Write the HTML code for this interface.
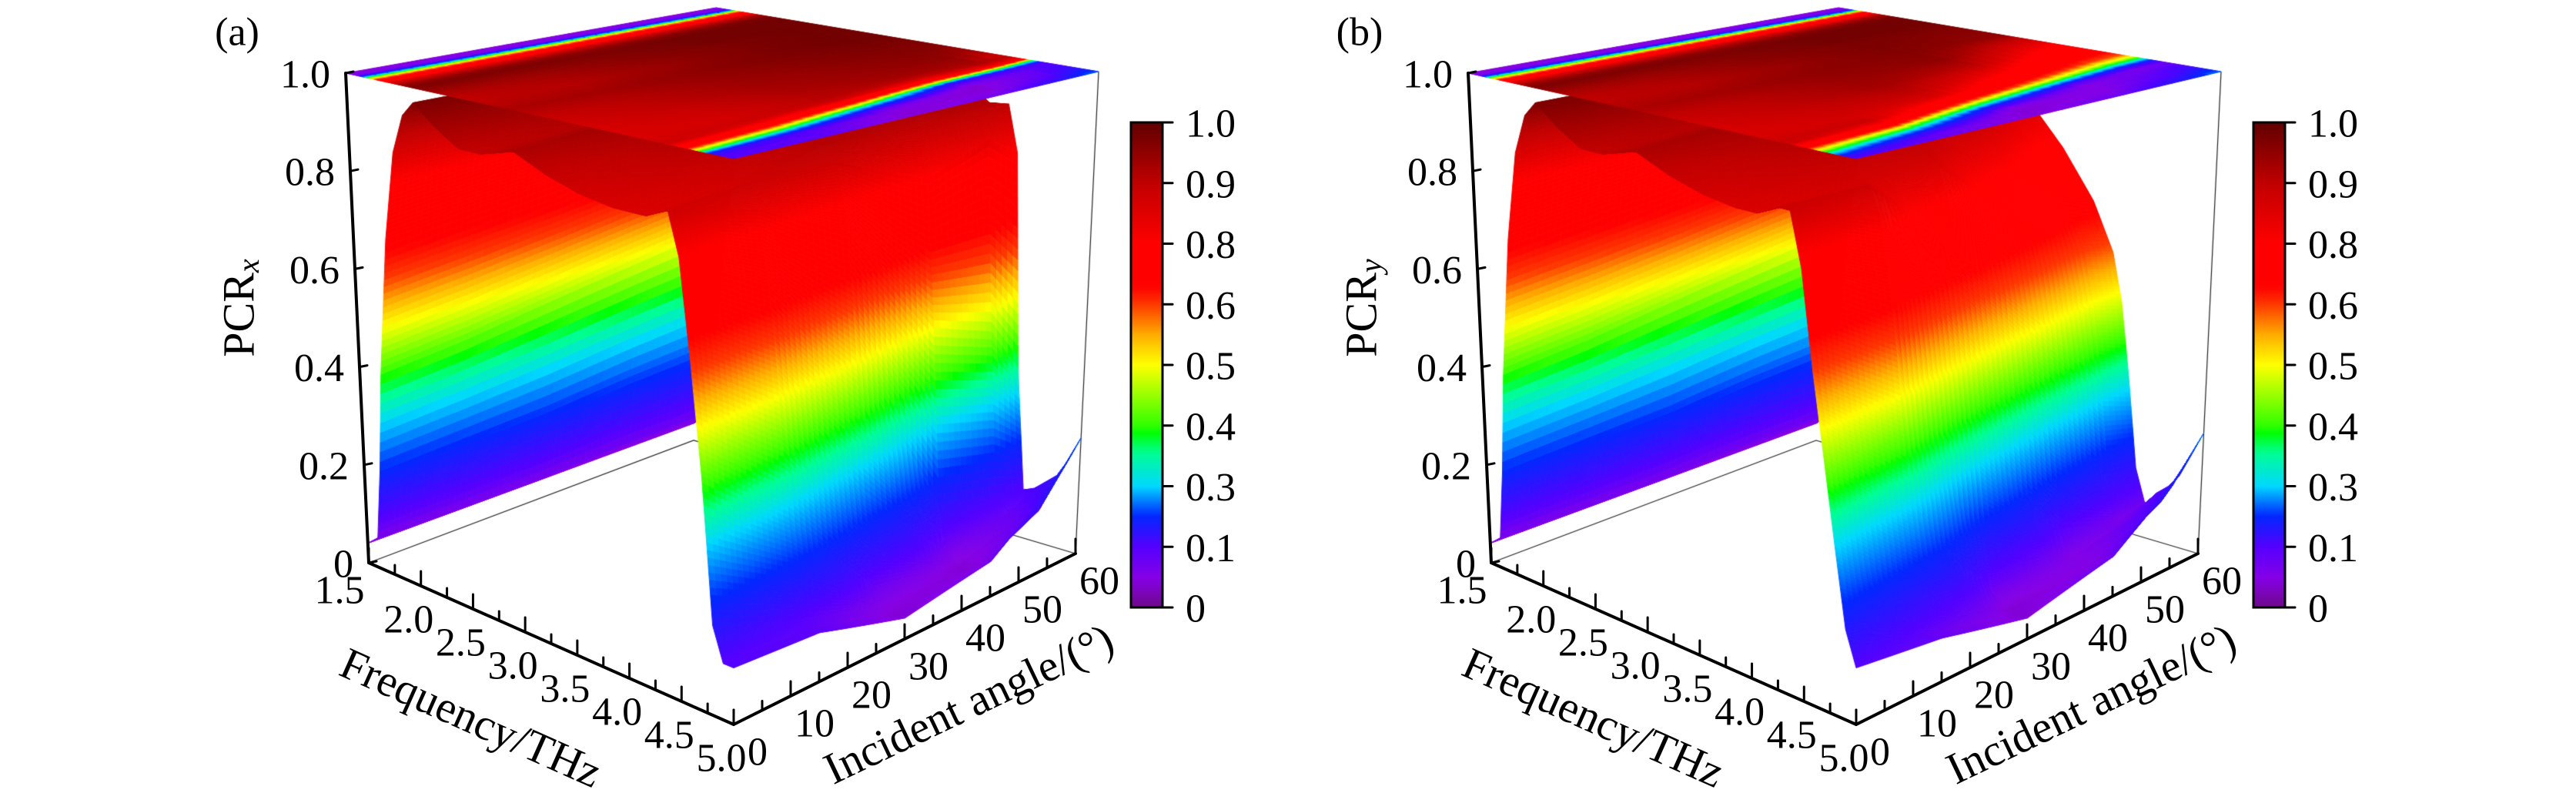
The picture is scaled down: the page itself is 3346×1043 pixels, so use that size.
<!DOCTYPE html>
<html>
<head>
<meta charset="utf-8">
<style>
  html,body{margin:0;padding:0;background:#fff;}
  #wrap{position:relative;width:3346px;height:1043px;overflow:hidden;background:#fff;}
  canvas,svg{position:absolute;left:0;top:0;}
  text{font-family:"Liberation Serif","DejaVu Serif",serif;fill:#000;}
</style>
</head>
<body>
<div id="wrap">
  <canvas id="cv" width="3346" height="1043"></canvas>
  <svg id="ov" width="3346" height="1043" viewBox="0 0 3346 1043">
    <defs>
      <linearGradient id="cmap" x1="0" y1="1" x2="0" y2="0"></linearGradient>
    </defs>
  </svg>
</div>
<script>
// ---------------- data ----------------
const freqs = [1.5,1.6,1.65,1.7,1.8,1.9,2.0,2.1,2.3,2.5,2.7,3.0,3.3,3.6,3.9,4.1,4.2,4.3,4.4,4.5,4.6,4.7,4.8,4.9,5.0];
const angles = [0,15,30,45,55,60];

// panel (a) PCR_x, one row per incident angle
const pcrX_0  = [0.04,0.06,0.20,0.40,0.68,0.86,0.94,0.97,0.93,0.90,0.90,0.92,0.89,0.87,0.86,0.86,0.86,0.87,0.88,0.80,0.62,0.42,0.16,0.10,0.10];
const pcrX_15 = [0.04,0.06,0.21,0.42,0.70,0.87,0.95,0.97,0.94,0.92,0.91,0.93,0.91,0.90,0.88,0.87,0.87,0.88,0.84,0.70,0.50,0.28,0.10,0.09,0.09];
const pcrX_30 = [0.04,0.06,0.22,0.45,0.72,0.88,0.95,0.97,0.96,0.95,0.94,0.95,0.94,0.93,0.92,0.91,0.91,0.88,0.75,0.50,0.25,0.08,0.05,0.04,0.04];
const pcrX_45 = [0.04,0.07,0.24,0.48,0.75,0.90,0.96,0.98,0.98,0.97,0.97,0.97,0.96,0.95,0.94,0.93,0.90,0.80,0.50,0.15,0.06,0.04,0.04,0.05,0.07];
const pcrX_55 = [0.04,0.07,0.25,0.50,0.77,0.91,0.97,0.98,0.98,0.98,0.98,0.98,0.97,0.96,0.95,0.93,0.92,0.85,0.45,0.12,0.08,0.08,0.09,0.11,0.16];
const pcrX_60 = [0.04,0.07,0.26,0.52,0.78,0.92,0.97,0.98,0.98,0.98,0.98,0.98,0.97,0.96,0.92,0.88,0.90,0.80,0.35,0.10,0.11,0.13,0.15,0.19,0.24];

// panel (b) PCR_y
const pcrY_0  = [0.04,0.06,0.20,0.40,0.68,0.86,0.94,0.97,0.93,0.90,0.90,0.92,0.89,0.87,0.86,0.86,0.87,0.88,0.88,0.78,0.60,0.45,0.30,0.16,0.10];
const pcrY_15 = [0.04,0.06,0.21,0.42,0.70,0.87,0.95,0.97,0.94,0.92,0.91,0.93,0.91,0.90,0.88,0.87,0.87,0.88,0.82,0.68,0.48,0.30,0.15,0.08,0.08];
const pcrY_30 = [0.04,0.06,0.22,0.45,0.72,0.88,0.95,0.97,0.96,0.95,0.94,0.95,0.94,0.93,0.90,0.86,0.80,0.70,0.55,0.35,0.15,0.06,0.04,0.04,0.04];
const pcrY_45 = [0.04,0.07,0.24,0.48,0.75,0.90,0.96,0.98,0.98,0.97,0.97,0.96,0.95,0.90,0.80,0.70,0.62,0.50,0.30,0.10,0.05,0.05,0.05,0.06,0.08];
const pcrY_55 = [0.04,0.07,0.25,0.50,0.77,0.91,0.97,0.98,0.98,0.97,0.96,0.95,0.88,0.80,0.70,0.60,0.50,0.35,0.15,0.06,0.07,0.09,0.10,0.13,0.17];
const pcrY_60 = [0.04,0.07,0.26,0.52,0.78,0.92,0.97,0.98,0.98,0.97,0.96,0.95,0.86,0.78,0.68,0.58,0.48,0.32,0.14,0.07,0.10,0.12,0.15,0.20,0.25];

const zTicks = [0,0.2,0.4,0.6,0.8,1.0];
const zTickLabels = ['0','0.2','0.4','0.6','0.8','1.0'];
const freqTicks = [1.5,2.0,2.5,3.0,3.5,4.0,4.5,5.0];
const freqTickLabels = ['1.5','2.0','2.5','3.0','3.5','4.0','4.5','5.0'];
const angleTicks = [0,10,20,30,40,50,60];
const angleTickLabels = ['0','10','20','30','40','50','60'];
const cbarLabels = ['0','0.1','0.3','0.4','0.5','0.6','0.8','0.9','1.0'];
const cbarValues = [0,0.1,0.3,0.4,0.5,0.6,0.8,0.9,1.0];

// ---------------- colormap ----------------
const cmT = [0,0.06,0.125,0.19,0.25,0.32,0.36,0.375,0.5,0.56,0.625,0.66,0.75,0.875,1];
const cmC = ['#6e0a8a','#8600e6','#5400ff','#0028ff','#00d8ff','#00ff90','#00ff00','#30ff00','#ffff00','#ffb000','#ff3800','#ff0000','#ff0000','#c00000','#600000'];
function hex(c){return [parseInt(c.slice(1,3),16),parseInt(c.slice(3,5),16),parseInt(c.slice(5,7),16)];}
const cmRGB = cmC.map(hex);
function tColor(t){
  t=Math.max(0,Math.min(1,t));
  for(let i=0;i<cmT.length-1;i++){
    if(t<=cmT[i+1]){
      const k=(t-cmT[i])/(cmT[i+1]-cmT[i]);
      const a=cmRGB[i],b=cmRGB[i+1];
      return 'rgb('+Math.round(a[0]+(b[0]-a[0])*k)+','+Math.round(a[1]+(b[1]-a[1])*k)+','+Math.round(a[2]+(b[2]-a[2])*k)+')';
    }
  }
  return cmC[cmC.length-1];
}
function valToT(v){
  v=Math.max(0,Math.min(1,v));
  for(let i=0;i<cbarValues.length-1;i++){
    if(v<=cbarValues[i+1]){
      const k=(v-cbarValues[i])/(cbarValues[i+1]-cbarValues[i]);
      return (i+k)/(cbarValues.length-1);
    }
  }
  return 1;
}
const colCache={};
function valColor(v){
  const key=Math.round(Math.max(0,Math.min(1,v))*1000);
  if(!(key in colCache)) colCache[key]=tColor(valToT(key/1000));
  return colCache[key];
}

// ---------------- projection ----------------
const Lb=[479,731],Fb=[953,941],Rb=[1397,719],Bb=[901,572];
const Lt=[449,95],Ft=[953,206],Rt=[1427,93],Bt=[930,10];
function bil(P00,P10,P11,P01,u,v){
  return [(1-u)*(1-v)*P00[0]+u*(1-v)*P10[0]+u*v*P11[0]+(1-u)*v*P01[0],
          (1-u)*(1-v)*P00[1]+u*(1-v)*P10[1]+u*v*P11[1]+(1-u)*v*P01[1]];
}
function fScale(f){return (f-1.5)/3.5;}
function aScale(a){return a/60;}
function proj(f,a,z,dx){
  const u=fScale(f),v=aScale(a);
  const b=bil(Lb,Fb,Rb,Bb,u,v),t=bil(Lt,Ft,Rt,Bt,u,v);
  return [b[0]+(t[0]-b[0])*z+dx, b[1]+(t[1]-b[1])*z];
}
function interp(rows,f,a){
  let i=0; while(i<freqs.length-2 && f>freqs[i+1]) i++;
  let j=0; while(j<angles.length-2 && a>angles[j+1]) j++;
  const kf=(f-freqs[i])/(freqs[i+1]-freqs[i]);
  const ka=(a-angles[j])/(angles[j+1]-angles[j]);
  const z00=rows[j][i],z10=rows[j][i+1],z01=rows[j+1][i],z11=rows[j+1][i+1];
  return (1-kf)*(1-ka)*z00+kf*(1-ka)*z10+(1-kf)*ka*z01+kf*ka*z11;
}

// ---------------- drawing ----------------
const cv=document.getElementById('cv');
const ctx=cv.getContext('2d');
const NS='http://www.w3.org/2000/svg';
const ov=document.getElementById('ov');

const grad=document.getElementById('cmap');
for(let k=0;k<=64;k++){
  const s=document.createElementNS(NS,'stop');
  s.setAttribute('offset',(k/64*100)+'%');
  s.setAttribute('stop-color',tColor(k/64));
  grad.appendChild(s);
}

function line(g,x1,y1,x2,y2,w,name){
  const l=document.createElementNS(NS,'line');
  l.setAttribute('x1',x1);l.setAttribute('y1',y1);l.setAttribute('x2',x2);l.setAttribute('y2',y2);
  l.setAttribute('stroke','#000');l.setAttribute('stroke-width',w);l.setAttribute('stroke-linecap','round');
  
  
  g.appendChild(l);
  return l;
}
function txt(g,x,y,s,size,anchor,name){
  const t=document.createElementNS(NS,'text');
  t.setAttribute('x',x);t.setAttribute('y',y);
  t.setAttribute('font-size',size);
  t.setAttribute('text-anchor',anchor);
  t.setAttribute('dominant-baseline','central');
  t.textContent=s;
  
  
  g.appendChild(t);
  return t;
}

function fillQuad(p,col){
  ctx.fillStyle=col;ctx.strokeStyle=col;
  ctx.beginPath();ctx.moveTo(p[0][0],p[0][1]);
  ctx.lineTo(p[1][0],p[1][1]);ctx.lineTo(p[2][0],p[2][1]);ctx.lineTo(p[3][0],p[3][1]);
  ctx.closePath();ctx.fill();ctx.stroke();
}

function drawPanel(rows,dx,tag){
  ctx.strokeStyle='#222';ctx.lineWidth=1.2;
  const pL=proj(1.5,0,0,dx),pB=proj(1.5,60,0,dx),pR=proj(5,60,0,dx),pRt=proj(5,60,1,dx);
  ctx.beginPath();ctx.moveTo(pL[0],pL[1]);ctx.lineTo(pB[0],pB[1]);ctx.lineTo(pR[0],pR[1]);ctx.lineTo(pRt[0],pRt[1]);ctx.stroke();

  // surface sub-quads
  const NF=700, NA=60;
  const zg=[];
  for(let j=0;j<=NA;j++){
    const row=[];
    const a=60*j/NA;
    for(let i=0;i<=NF;i++){row.push(interp(rows,1.5+3.5*i/NF,a));}
    zg.push(row);
  }
  const quads=[];
  for(let j=0;j<NA;j++){
    const a=60*j/NA,a1=60*(j+1)/NA;
    for(let i=0;i<NF;i++){
      const f=1.5+3.5*i/NF,f1=1.5+3.5*(i+1)/NF;
      const z00=zg[j][i],z10=zg[j][i+1],z11=zg[j+1][i+1],z01=zg[j+1][i];
      const c=proj((f+f1)/2,(a+a1)/2,0,dx);
      quads.push({pts:[proj(f,a,z00,dx),proj(f1,a,z10,dx),proj(f1,a1,z11,dx),proj(f,a1,z01,dx)],
                  z:(z00+z10+z11+z01)/4, d:c[1]});
    }
  }
  quads.sort((p,q)=>p.d-q.d);
  ctx.lineWidth=1;ctx.lineJoin='round';
  for(const q of quads) fillQuad(q.pts,valColor(q.z));

  // projected map on top plane
  const TF=350, TA=30;
  for(let j=0;j<TA;j++){
    const a=60*j/TA,a1=60*(j+1)/TA;
    for(let i=0;i<TF;i++){
      const f=1.5+3.5*i/TF,f1=1.5+3.5*(i+1)/TF;
      const z=interp(rows,(f+f1)/2,(a+a1)/2);
      fillQuad([proj(f,a,1,dx),proj(f1,a,1,dx),proj(f1,a1,1,dx),proj(f,a1,1,dx)],valColor(z));
    }
  }

  // ---- SVG axes ----
  const g=document.createElementNS(NS,'g');
  
  
  ov.appendChild(g);
  const L0=proj(1.5,0,0,dx),L1=proj(1.5,0,1,dx),F0=proj(5,0,0,dx),R0=proj(5,60,0,dx);
  line(g,L0[0],L0[1],L1[0],L1[1],4,'z-axis-line');
  line(g,L0[0],L0[1],F0[0],F0[1],4,'frequency-axis-line');
  line(g,F0[0],F0[1],R0[0],R0[1],4,'angle-axis-line');
  zTicks.forEach((z,k)=>{
    const p=proj(1.5,0,z,dx);
    line(g,p[0],p[1],p[0]+10,p[1]-2,3,'z-tick');
    txt(g,p[0]-20,p[1]+2,zTickLabels[k],52,'end','z-tick-label');
  });
  for(let f=1.5; f<=5.0001; f+=0.25){
    const p=proj(f,0,0,dx);
    const major=Math.abs(f*2-Math.round(f*2))<1e-6;
    line(g,p[0],p[1],p[0],p[1]-(major?19:12),3,major?'frequency-major-tick':'frequency-minor-tick');
  }
  freqTicks.forEach((f,k)=>{
    const p=proj(f,0,0,dx);
    const off=(k===0)?[-38,36]:[-16,44];
    txt(g,p[0]+off[0],p[1]+off[1],freqTickLabels[k],52,'middle','frequency-tick-label');
  });
  for(let a=0; a<=60; a+=5){
    const p=proj(5,a,0,dx);
    const major=(a%10===0);
    line(g,p[0],p[1],p[0],p[1]-(major?19:12),3,major?'angle-major-tick':'angle-minor-tick');
  }
  angleTicks.forEach((a,k)=>{
    const p=proj(5,a,0,dx);
    txt(g,p[0]+31,p[1]+36,angleTickLabels[k],52,'middle','angle-tick-label');
  });
  const zt=document.createElementNS(NS,'text');
  zt.setAttribute('x',310+dx);zt.setAttribute('y',400);
  zt.setAttribute('font-size',58);zt.setAttribute('text-anchor','middle');zt.setAttribute('dominant-baseline','central');
  zt.setAttribute('transform','rotate(-90 '+(310+dx)+' 400)');
  zt.innerHTML='PCR<tspan font-style="italic" font-size="40" dy="12">'+tag+'</tspan>';
  
  
  g.appendChild(zt);
  const ft=txt(g,612+dx,932,'Frequency/THz',58,'middle','frequency-axis-title');
  ft.setAttribute('transform','rotate(24 '+(612+dx)+' 932)');
  const at=txt(g,1258+dx,914,'Incident angle/(°)',58,'middle','angle-axis-title');
  at.setAttribute('transform','rotate(-25.5 '+(1258+dx)+' 914)');
  txt(g,308+dx,42,tag==='x'?'(a)':'(b)',52,'middle','panel-label');

  const cx=1469+dx, cy0=159, cy1=789, cw=41;
  const r=document.createElementNS(NS,'rect');
  r.setAttribute('x',cx);r.setAttribute('y',cy0);r.setAttribute('width',cw);r.setAttribute('height',cy1-cy0);
  r.setAttribute('fill','url(#cmap)');r.setAttribute('stroke','#000');r.setAttribute('stroke-width',3);
  
  
  g.appendChild(r);
  cbarLabels.forEach((s,k)=>{
    const y=cy1-(cy1-cy0)*k/(cbarLabels.length-1);
    line(g,cx+cw,y,cx+cw+13,y,3,'colorbar-tick');
    txt(g,cx+cw+30,y+2,s,52,'start','colorbar-tick-label');
  });
}

const rowsX=[pcrX_0,pcrX_15,pcrX_30,pcrX_45,pcrX_55,pcrX_60];
const rowsY=[pcrY_0,pcrY_15,pcrY_30,pcrY_45,pcrY_55,pcrY_60];
drawPanel(rowsX,0,'x');
drawPanel(rowsY,1458,'y');
</script>
</body>
</html>
